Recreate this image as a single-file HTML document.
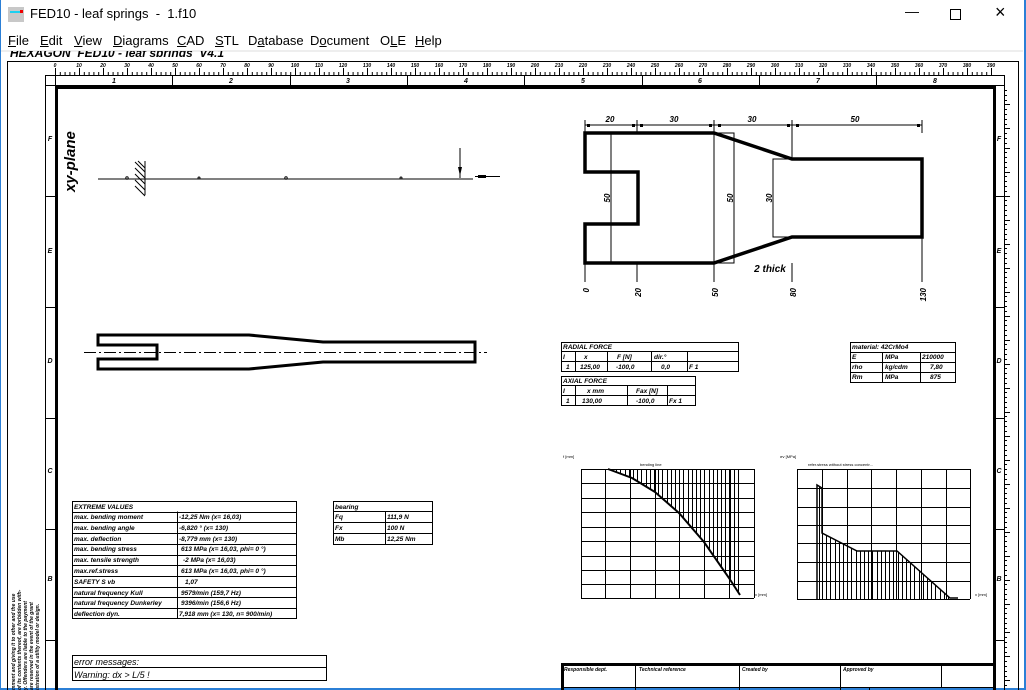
<!DOCTYPE html>
<html><head><meta charset="utf-8"><style>
body{margin:0;width:1026px;height:690px;overflow:hidden;background:#fff;font-family:"Liberation Sans",sans-serif;position:relative}
.menu span{position:absolute;top:33px;font-size:13px;color:#000}
svg text{font-family:"Liberation Sans",sans-serif}
</style></head><body>
<div style="position:absolute;left:0;top:0;width:1px;height:690px;background:#2b7fd6"></div>
<div style="position:absolute;right:0;top:0;width:2px;height:690px;background:#2b7fd6"></div>
<div style="position:absolute;left:0;bottom:0;width:1026px;height:2px;background:#2b7fd6"></div>
<div style="position:absolute;left:8px;top:7px;width:16px;height:15px;background:#c8c8c8"></div>
<div style="position:absolute;left:10px;top:11px;width:10px;height:2px;background:#1ad0f0"></div>
<div style="position:absolute;left:20px;top:10px;width:3px;height:3px;background:#e00"></div>
<div style="position:absolute;left:30px;top:6px;font-size:13px">FED10 - leaf springs&nbsp; -&nbsp; 1.f10</div>
<div style="position:absolute;left:905px;top:3px;font-size:14px">&#8212;</div>
<div style="position:absolute;left:950px;top:9px;width:9px;height:9px;border:1px solid #000"></div>
<div style="position:absolute;left:995px;top:2px;font-size:18px">&#215;</div>
<div class="menu">
<span style="left:8px"><u>F</u>ile</span><span style="left:40px"><u>E</u>dit</span><span style="left:74px"><u>V</u>iew</span><span style="left:113px"><u>D</u>iagrams</span><span style="left:177px"><u>C</u>AD</span><span style="left:215px"><u>S</u>TL</span><span style="left:248px">D<u>a</u>tabase</span><span style="left:310px">D<u>o</u>cument</span><span style="left:380px">O<u>L</u>E</span><span style="left:415px"><u>H</u>elp</span>
</div>
<svg id="s" width="1026" height="690" style="position:absolute;left:0;top:0" xmlns="http://www.w3.org/2000/svg">
<defs><clipPath id="hc"><rect x="0" y="51" width="1026" height="6"/></clipPath></defs>
<rect x="1" y="50" width="1022" height="2" fill="#eee"/>
<text x="10" y="57" font-size="12" font-style="italic" font-weight="bold" clip-path="url(#hc)">HEXAGON&#160; FED10 - leaf springs&#160; V4.1</text>
<g stroke="#000" fill="none" stroke-width="1">
<path d="M7.5 690V61.5H1018.5V690"/>
<path d="M45.5 690V75.5H1004.5V690"/>
<path d="M55.5 75.5V86M1004.5 86V690"/>
<line x1="45" y1="85.5" x2="1004" y2="85.5"/>
</g>
<g stroke="#000" stroke-width="3" fill="none"><path d="M56.5 690V87.5H994.5V690"/></g>
<g id="ticks" stroke="#000" stroke-width="1"></g>
<g font-size="5" font-style="italic" font-weight="bold" text-anchor="middle" id="rn">
<text x="55" y="67">0</text><text x="79" y="67">10</text><text x="103" y="67">20</text><text x="127" y="67">30</text><text x="151" y="67">40</text><text x="175" y="67">50</text><text x="199" y="67">60</text><text x="223" y="67">70</text><text x="247" y="67">80</text><text x="271" y="67">90</text><text x="295" y="67">100</text><text x="319" y="67">110</text><text x="343" y="67">120</text><text x="367" y="67">130</text><text x="391" y="67">140</text><text x="415" y="67">150</text><text x="439" y="67">160</text><text x="463" y="67">170</text><text x="487" y="67">180</text><text x="511" y="67">190</text><text x="535" y="67">200</text><text x="559" y="67">210</text><text x="583" y="67">220</text><text x="607" y="67">230</text><text x="631" y="67">240</text><text x="655" y="67">250</text><text x="679" y="67">260</text><text x="703" y="67">270</text><text x="727" y="67">280</text><text x="751" y="67">290</text><text x="775" y="67">300</text><text x="799" y="67">310</text><text x="823" y="67">320</text><text x="847" y="67">330</text><text x="871" y="67">340</text><text x="895" y="67">350</text><text x="919" y="67">360</text><text x="943" y="67">370</text><text x="967" y="67">380</text><text x="991" y="67">390</text>
</g>
<g font-size="7" font-style="italic" font-weight="bold" text-anchor="middle">
<text x="114" y="83">1</text><text x="231" y="83">2</text><text x="348" y="83">3</text><text x="466" y="83">4</text><text x="583" y="83">5</text><text x="700" y="83">6</text><text x="818" y="83">7</text><text x="935" y="83">8</text>
<text x="50" y="141">F</text><text x="50" y="253">E</text><text x="50" y="363">D</text><text x="50" y="473">C</text><text x="50" y="581">B</text>
<text x="999" y="141">F</text><text x="999" y="253">E</text><text x="999" y="363">D</text><text x="999" y="473">C</text><text x="999" y="581">B</text>
</g>
<g id="rr" font-size="5" font-weight="bold"></g>
<text transform="translate(75,192) rotate(-90)" font-size="15" font-style="italic" font-weight="bold">xy-plane</text>
<g stroke="#000" fill="none">
<line x1="98" y1="179" x2="473" y2="179"/>
<line x1="145" y1="161" x2="145" y2="195"/>
<path d="M135 162l10 10M135 168l10 10M135 174l10 10M135 180l10 10M135 186l10 10M138 161l7 7"/>
<circle cx="127" cy="178" r="1.2"/><circle cx="199" cy="178" r="1"/><circle cx="286" cy="178" r="1.2"/><circle cx="401" cy="178" r="1"/>
<line x1="460" y1="148" x2="460" y2="178"/>
<line x1="475" y1="176.5" x2="500" y2="176.5"/>
</g>
<path d="M458 167h4l-2 9z" fill="#000"/><rect x="478" y="175" width="8" height="3" fill="#000"/>
<path d="M98 335H249L323 342H475V362H323L249 369H98V359H157V345H98Z" stroke="#000" stroke-width="3" fill="none"/>
<line x1="84" y1="352.5" x2="487" y2="352.5" stroke="#000" stroke-dasharray="12,3,2,3"/>
<path d="M585 133H714L792 159H922V237H792L714 263H585V224H638V172H585Z" stroke="#000" stroke-width="3.5" fill="none" stroke-linejoin="miter"/>
<g stroke="#000" fill="none">
<line x1="585" y1="125" x2="922" y2="125"/>
<path d="M585 120V133M637 120V133M714 120V133M792 120V159M922 120V133"/>
<path d="M585 263V282M637 263V282M714 263V282M792 263V282M922 237V282"/>
<line x1="611" y1="133" x2="611" y2="263"/>
<rect x="714" y="133" width="20" height="130"/>
<path d="M792 159H773V237H792"/>
</g>
<g fill="#000"><rect x="587" y="124" width="3" height="3"/><rect x="632" y="124" width="3" height="3"/><rect x="640" y="124" width="3" height="3"/><rect x="709" y="124" width="3" height="3"/><rect x="718" y="124" width="3" height="3"/><rect x="787" y="124" width="3" height="3"/><rect x="796" y="124" width="3" height="3"/><rect x="917" y="124" width="3" height="3"/></g>
<g font-size="8" font-style="italic" font-weight="bold" text-anchor="middle">
<text x="610" y="122">20</text><text x="674" y="122">30</text><text x="752" y="122">30</text><text x="855" y="122">50</text>
<text transform="translate(610,198) rotate(-90)">50</text><text transform="translate(733,198) rotate(-90)">50</text><text transform="translate(772,198) rotate(-90)">30</text>
<text transform="translate(589,288) rotate(-90)" text-anchor="end">0</text><text transform="translate(641,288) rotate(-90)" text-anchor="end">20</text><text transform="translate(718,288) rotate(-90)" text-anchor="end">50</text><text transform="translate(796,288) rotate(-90)" text-anchor="end">80</text><text transform="translate(926,288) rotate(-90)" text-anchor="end">130</text>
<text x="770" y="272" font-size="10">2 thick</text>
</g>
<g stroke="#000" fill="none" stroke-width="1">
<path d="M561.5 342.5H738.5V371.5H561.5ZM561.5 351.5H738.5M561.5 361.5H738.5M575.5 351.5V371.5M607.5 351.5V371.5M651.5 351.5V371.5M687.5 351.5V371.5"/>
<path d="M561.5 376.5H695.5V405.5H561.5ZM561.5 385.5H695.5M561.5 395.5H695.5M575.5 385.5V405.5M627.5 385.5V405.5M667.5 385.5V405.5"/>
<path d="M850.5 342.5H955.5V382.5H850.5ZM850.5 352.5H955.5M850.5 362.5H955.5M850.5 372.5H955.5M882.5 352.5V382.5M920.5 352.5V382.5"/>
<path d="M72.5 501.5H296.5V618.5H72.5ZM177.5 511.5V618.5"/>
<path d="M333.5 501.5H432.5V544.5H333.5ZM333.5 511.5H432.5M333.5 522.5H432.5M333.5 533.5H432.5M385.5 511.5V544.5"/>
<path d="M72.5 655.5H326.5V680.5H72.5ZM72.5 667.5H326.5"/>
</g>
<g id="evl" stroke="#000"></g>
<g font-size="6.5" font-style="italic" font-weight="bold">
<text x="563" y="349">RADIAL FORCE</text><text x="563" y="359">I</text><text x="584" y="359">x</text><text x="617" y="359">F [N]</text><text x="654" y="359">dir.°</text>
<text x="566" y="369">1</text><text x="580" y="369">125,00</text><text x="616" y="369">-100,0</text><text x="661" y="369">0,0</text><text x="689" y="369">F 1</text>
<text x="563" y="383">AXIAL FORCE</text><text x="563" y="393">I</text><text x="587" y="393">x mm</text><text x="636" y="393">Fax [N]</text>
<text x="566" y="403">1</text><text x="582" y="403">130,00</text><text x="636" y="403">-100,0</text><text x="669" y="403">Fx 1</text>
<text x="852" y="349">material: 42CrMo4</text><text x="852" y="359">E</text><text x="885" y="359">MPa</text><text x="922" y="359">210000</text>
<text x="852" y="369">rho</text><text x="885" y="369">kg/cdm</text><text x="930" y="369">7,80</text>
<text x="852" y="379">Rm</text><text x="885" y="379">MPa</text><text x="930" y="379">875</text>
<text x="74" y="509">EXTREME VALUES</text>
<text x="74" y="519">max. bending moment</text><text x="179" y="519">-12,25 Nm  (x= 16,03)</text>
<text x="74" y="530">max. bending angle</text><text x="179" y="530">-6,820 °  (x= 130)</text>
<text x="74" y="541">max. deflection</text><text x="179" y="541">-8,779 mm  (x= 130)</text>
<text x="74" y="551">max. bending stress</text><text x="181" y="551">613 MPa  (x= 16,03, phi= 0 °)</text>
<text x="74" y="562">max. tensile strength</text><text x="183" y="562">-2 MPa  (x= 16,03)</text>
<text x="74" y="573">max.ref.stress</text><text x="181" y="573">613 MPa  (x= 16,03, phi= 0 °)</text>
<text x="74" y="584">SAFETY S vb</text><text x="185" y="584">1,07</text>
<text x="74" y="595">natural frequency Kull</text><text x="181" y="595">9579/min  (159,7 Hz)</text>
<text x="74" y="605">natural frequency Dunkerley</text><text x="181" y="605">9396/min  (156,6 Hz)</text>
<text x="74" y="616">deflection dyn.</text><text x="179" y="616">7,918 mm (x= 130, n= 900/min)</text>
<text x="335" y="509">bearing</text><text x="335" y="519">Fq</text><text x="387" y="519">111,9 N</text>
<text x="335" y="530">Fx</text><text x="387" y="530">100 N</text><text x="335" y="541">Mb</text><text x="387" y="541">12,25 Nm</text>
</g>
<g font-size="9" font-style="italic"><text x="74" y="665">error messages:</text><text x="74" y="678">Warning: dx &gt; L/5 !</text></g>
<g id="ch" stroke="#000" fill="none"></g>
<g font-size="4" id="lab">
<text x="640" y="466">bending line</text><text x="808" y="466">refer.stress without stress concentr...</text>
<text x="563" y="458">f [mm]</text><text x="780" y="458">σv [MPa]</text><text x="755" y="596">x [mm]</text><text x="975" y="596">x [mm]</text>
</g>
<g stroke="#000" fill="none">
<path d="M561 664.5H994" stroke-width="3"/><path d="M562.5 664V690" stroke-width="3"/>
<path d="M561 687.5H994M635.5 665V690M739.5 665V690M840.5 665V690M941.5 665V688M869.5 688V690"/>
</g>
<g font-size="5" font-style="italic" font-weight="bold"><text x="564" y="671">Responsible dept.</text><text x="639" y="671">Technical reference</text><text x="742" y="671">Created by</text><text x="843" y="671">Approved by</text></g>
<g font-size="5" font-weight="bold" font-style="italic">
<text transform="translate(15,690) rotate(-90)">mment and giving it to other and the use</text>
<text transform="translate(21,690) rotate(-90)">of its contents thereof, are forbidden with-</text>
<text transform="translate(27,690) rotate(-90)">y. Offenders are liable to the payment</text>
<text transform="translate(33,690) rotate(-90)">are reserved in the event of the grant</text>
<text transform="translate(39,690) rotate(-90)">istration of a utility model or design.</text>
</g>
</svg>
<script>
var NS="http://www.w3.org/2000/svg";
function L(g,x1,y1,x2,y2,w){var l=document.createElementNS(NS,"line");l.setAttribute("x1",x1);l.setAttribute("y1",y1);l.setAttribute("x2",x2);l.setAttribute("y2",y2);if(w)l.setAttribute("stroke-width",w);g.appendChild(l);}
var t=document.getElementById("ticks");
for(var i=0;i<=390;i+=2){var x=55+i*2.4+0.5;var h=(i%10==0)?7:((i%10==5)?5:3);L(t,x,75,x,75-h);}
[172,290,407,524,642,759,876].forEach(function(x){L(t,x+.5,75,x+.5,86);});
[196,307,418,529,640].forEach(function(y){L(t,45,y+.5,55,y+.5);L(t,995,y+.5,1004,y+.5);});
for(var y=90;y<690;y+=4.8){var k=Math.round((y-102)/4.8);var h=(k%5==0)?6:3;L(t,1004,Math.round(y)+.5,1004+h,Math.round(y)+.5);}
var ev=document.getElementById("evl");for(var r=1;r<=10;r++){var yy=Math.round(501+r*10.7)+.5;L(ev,72,yy,296,yy);}
var ch=document.getElementById("ch");
[581,605,630,655,679,704,729,754].forEach(function(x){L(ch,x+.5,469,x+.5,598);});
[469,483,498,512,527,541,556,570,584,598].forEach(function(y){L(ch,581,y+.5,754,y+.5);});
[797,822,847,871,896,921,946,970].forEach(function(x){L(ch,x+.5,469,x+.5,599);});
[469,488,507,525,543,562,581,599].forEach(function(y){L(ch,797,y+.5,970,y+.5);});
function interp(p,x){for(var i=0;i<p.length-1;i++){if(x>=p[i][0]&&x<=p[i+1][0]){var f=(x-p[i][0])/(p[i+1][0]-p[i][0]||1);return p[i][1]+f*(p[i+1][1]-p[i][1]);}}return p[p.length-1][1];}
var c1=[[608,469],[632,478],[655,492],[679,513],[704,542],[729,578],[740,595]];
var pl=document.createElementNS(NS,"polyline");pl.setAttribute("points",c1.join(" "));pl.setAttribute("stroke-width","2");ch.appendChild(pl);
for(var x=612;x<=740;x+=4.2){L(ch,Math.round(x)+.5,469,Math.round(x)+.5,interp(c1,x));}
var c2=[[822,533],[857,551],[897,551],[950,598],[958,598]];
var p2=document.createElementNS(NS,"polyline");p2.setAttribute("points","817,599 817,485 822,488 "+c2.join(" "));p2.setAttribute("stroke-width","1.5");ch.appendChild(p2);
L(ch,819.5,486,819.5,599);
for(var x=822;x<=950;x+=4.2){L(ch,Math.round(x)+.5,interp(c2,x),Math.round(x)+.5,599);}
</script>
</body></html>
